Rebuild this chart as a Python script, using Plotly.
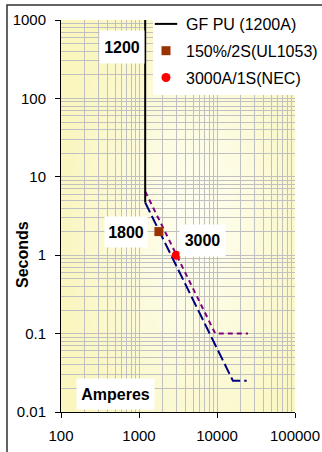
import base64, struct, zlib
import numpy as np
import plotly.graph_objects as go

# ---------------- data ----------------
gf_name = "GF PU (1200A)"
gf_amps = [1200, 1200]
gf_secs = [1000, 4.7]

blue_amps = [1200, 16000, 24000]
blue_secs = [4.7, 0.025, 0.025]

purple_amps = [1200, 9500, 25000]
purple_secs = [6.5, 0.1, 0.1]

ul_name = "150%/2S(UL1053)"
ul_amps = [1800]
ul_secs = [2]

nec_name = "3000A/1S(NEC)"
nec_amps = [3000]
nec_secs = [1]

x_ticks = [100, 1000, 10000, 100000]
x_labels = ["100", "1000", "10000", "100000"]
y_ticks = [0.01, 0.1, 1, 10, 100, 1000]
y_labels = ["0.01", "0.1", "1", "10", "100", "1000"]

# ---------------- geometry ----------------
W, H = 322, 452
L, R, T, B = 61, 295, 20, 412   # plot area in px
FONT = "Liberation Sans, Arial, sans-serif"


def px(xp):
    return (xp - L) / (R - L)


def py(yp):
    return (B - yp) / (B - T)


def gradient_png(w=120, h=200):
    yy, xx = np.mgrid[0:h, 0:w]
    cx, cy = 0.57 * w, 0.52 * h
    d = np.sqrt(((xx - cx) / (0.6 * w)) ** 2 + ((yy - cy) / (0.75 * h)) ** 2)
    t = np.clip(d, 0, 1)
    c0 = np.array([255, 255, 245], float)
    c1 = np.array([250, 246, 190], float)
    img = (c0[None, None, :] * (1 - t[..., None]) + c1[None, None, :] * t[..., None]).astype(np.uint8)
    raw = b"".join(b"\x00" + img[i].tobytes() for i in range(h))

    def chunk(tag, data):
        c = struct.pack(">I", len(data)) + tag + data
        return c + struct.pack(">I", zlib.crc32(tag + data) & 0xFFFFFFFF)

    png = b"\x89PNG\r\n\x1a\n" + chunk(b"IHDR", struct.pack(">IIBBBBB", w, h, 8, 2, 0, 0, 0)) \
        + chunk(b"IDAT", zlib.compress(raw, 9)) + chunk(b"IEND", b"")
    return "data:image/png;base64," + base64.b64encode(png).decode()


minor_x = [k * 10 ** e for e in range(2, 5) for k in range(2, 10)]
minor_y = [k * 10 ** e for e in range(-2, 3) for k in range(2, 10)]

fig = go.Figure()

fig.add_trace(go.Scatter(x=blue_amps, y=blue_secs, mode="lines", showlegend=False,
                         line=dict(color="#000080", width=2, dash="11px,4px"), hoverinfo="skip"))
fig.add_trace(go.Scatter(x=purple_amps, y=purple_secs, mode="lines", showlegend=False,
                         line=dict(color="#800080", width=2, dash="5px,4px"), hoverinfo="skip"))
fig.add_trace(go.Scatter(x=gf_amps, y=gf_secs, mode="lines", name=gf_name, showlegend=False,
                         line=dict(color="black", width=2)))
# legend entry for the GF PU line (short line symbol as in the reference)
fig.add_trace(go.Scatter(x=[None], y=[None], mode="markers", name=gf_name, legendgroup="a",
                         marker=dict(symbol="line-ew", size=17, color="black",
                                     line=dict(color="black", width=2))))
fig.add_trace(go.Scatter(x=ul_amps, y=ul_secs, mode="markers", name=ul_name, legendgroup="b",
                         marker=dict(symbol="square", size=9, color="#993300")))
fig.add_trace(go.Scatter(x=nec_amps, y=nec_secs, mode="markers", name=nec_name, legendgroup="c",
                         marker=dict(symbol="circle", size=9, color="#FF0000")))

axis_common = dict(type="log", showline=True, linecolor="black", linewidth=1,
                   ticks="outside", ticklen=5, tickcolor="black", tickwidth=1,
                   showgrid=True, gridcolor="#C0C0C0", gridwidth=1, zeroline=False,
                   tickfont=dict(family=FONT, size=15, color="black"), mirror=False)

fig.update_xaxes(**axis_common, range=[2, 5], tickmode="array", tickvals=x_ticks, ticktext=x_labels,
                 ticklabelstandoff=5,
                 minor=dict(tickmode="array", tickvals=minor_x, showgrid=True, gridcolor="#C0C0C0",
                            gridwidth=1, ticks=""))
fig.update_yaxes(**axis_common, range=[-2, 3], tickmode="array", tickvals=y_ticks, ticktext=y_labels,
                 ticklabelstandoff=6,
                 minor=dict(tickmode="array", tickvals=minor_y, showgrid=True, gridcolor="#C0C0C0",
                            gridwidth=1, ticks=""))

annots = [
    dict(text="<b>1200</b>", x=px(122), y=py(47), w=44, h=32),
    dict(text="<b>1800</b>", x=px(126), y=py(232), w=42, h=30),
    dict(text="<b>3000</b>", x=px(202.5), y=py(240.5), w=45, h=31),
    dict(text="<b>Amperes</b>", x=px(115.5), y=py(394), w=77, h=30),
]
for a in annots:
    fig.add_annotation(text=a["text"], x=a["x"], y=a["y"], xref="paper", yref="paper",
                       xanchor="center", yanchor="middle", showarrow=False,
                       width=a["w"], height=a["h"], bgcolor="white", borderpad=0,
                       font=dict(family=FONT, size=16, color="black"))
fig.add_annotation(text="<b>Seconds</b>", x=px(22), y=py(255), xref="paper", yref="paper",
                   textangle=-90, showarrow=False, xanchor="center", yanchor="middle",
                   font=dict(family=FONT, size=16, color="black"))

# outer chart frame
fig.add_shape(type="rect", xref="paper", yref="paper", x0=px(7), x1=px(340), y0=py(470), y1=py(5),
              line=dict(color="#303030", width=1.5), fillcolor="rgba(0,0,0,0)", layer="above")

fig.add_layout_image(dict(source=gradient_png(), xref="paper", yref="paper", x=0, y=1,
                          sizex=1, sizey=1, sizing="stretch", layer="below", xanchor="left", yanchor="top"))

fig.update_layout(
    width=W, height=H,
    margin=dict(l=L, r=W - R, t=T, b=H - B, autoexpand=False),
    paper_bgcolor="white", plot_bgcolor="rgba(0,0,0,0)",
    font=dict(family=FONT, size=15, color="black"),
    showlegend=True,
    legend=dict(x=px(153), y=py(7), xanchor="left", yanchor="top", bgcolor="white",
                borderwidth=0, tracegroupgap=3, indentation=-7,
                font=dict(family=FONT, size=16, color="black")),
)

fig.write_html("out.html")
